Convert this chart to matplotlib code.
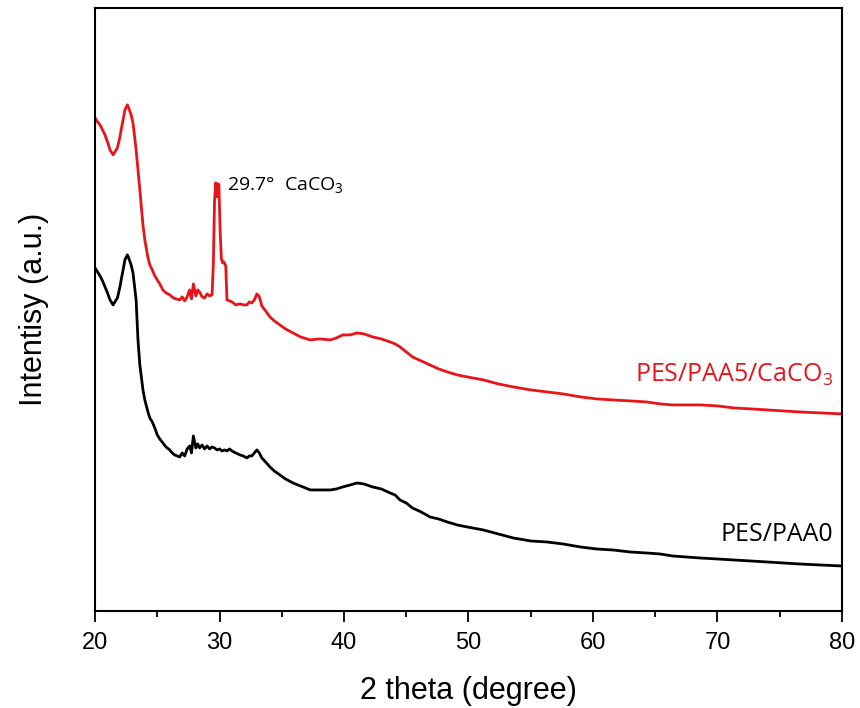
import matplotlib
matplotlib.use("Agg")
import matplotlib.pyplot as plt
from matplotlib.ticker import MultipleLocator

plt.rcParams['mathtext.fontset'] = 'custom'
plt.rcParams['mathtext.rm'] = 'Open Sans'
plt.rcParams['mathtext.it'] = 'Open Sans'

# 2theta (degree) and intensity (a.u.)
theta_red = [20.0, 20.2, 20.4, 20.6, 20.8, 21.0, 21.2, 21.45, 21.6, 21.8, 22.0, 22.1, 22.3, 22.4, 22.6,
             22.7, 22.9, 23.05, 23.3, 23.45, 23.6, 23.85, 24.0, 24.25, 24.4, 24.6, 24.8, 25.0, 25.2,
             25.45, 25.7, 26.0, 26.3, 26.5, 26.8, 27.0, 27.2, 27.4, 27.6, 27.75, 27.9, 28.1, 28.25,
             28.4, 28.6, 28.8, 29.0, 29.2, 29.4, 29.5, 29.6, 29.7, 29.8, 29.9, 29.95, 30.05, 30.15,
             30.25, 30.35, 30.5, 30.6, 30.8, 31.0, 31.3, 31.65, 31.9, 32.2, 32.4, 32.6, 32.8, 33.0,
             33.2, 33.4, 33.7, 34.05, 34.4, 34.85, 35.3, 35.9, 36.5, 37.3, 38.0, 38.9, 39.4, 39.9,
             40.5, 41.05, 41.6, 42.3, 43.0, 43.7, 44.1, 44.5, 45.0, 45.5, 46.2, 46.9, 47.6, 48.3,
             49.1, 49.9, 51.2, 52.4, 53.6, 55.0, 56.3, 57.6, 59.0, 60.3, 61.6, 63.0, 64.3, 65.4,
             66.4, 67.5, 68.6, 70.0, 71.3, 72.7, 74.0, 75.3, 76.6, 78.3, 80.0]
int_red = [493, 489, 486, 481, 476, 469, 461, 456, 459, 463, 474, 481, 494, 501, 506,
           503, 496, 488, 461, 441, 421, 386, 371, 353, 346, 341, 335, 331, 327,
           321, 318, 316, 313, 312, 311, 314, 310, 314, 321, 312, 327, 315, 321,
           319, 314, 313, 317, 315, 316, 345, 410, 428, 414, 427, 426, 380, 352,
           348, 349, 345, 311, 310, 309, 306, 307, 306, 306, 309, 308, 311, 317,
           314, 305, 300, 294, 290, 286, 282, 278, 274, 271, 272, 271, 273, 276,
           276, 278, 277, 274, 272, 269, 267, 264, 259, 254, 250, 246, 242, 239,
           236, 234, 231, 227, 224, 221, 219, 217, 214, 212, 211, 210, 209, 207,
           206, 206, 206, 205, 203, 202, 201, 200, 199, 198, 197]

theta_black = [20.0, 20.2, 20.4, 20.6, 20.8, 21.0, 21.2, 21.45, 21.6, 21.8, 22.0, 22.1, 22.3, 22.4, 22.6,
               22.7, 22.9, 23.05, 23.3, 23.45, 23.6, 23.85, 24.0, 24.25, 24.4, 24.6, 24.8, 25.0, 25.2,
               25.45, 25.7, 26.0, 26.2, 26.4, 26.8, 27.0, 27.2, 27.4, 27.6, 27.75, 27.9, 28.1, 28.25,
               28.4, 28.6, 28.8, 29.0, 29.2, 29.4, 29.6, 29.8, 30.0, 30.2, 30.4, 30.6, 30.8, 31.0,
               31.3, 31.65, 31.9, 32.2, 32.4, 32.6, 32.8, 33.0, 33.2, 33.4, 33.7, 34.05, 34.4, 34.85,
               35.3, 35.9, 36.5, 37.3, 38.0, 38.9, 39.4, 39.9, 40.5, 41.05, 41.6, 42.3, 43.0, 43.7,
               44.1, 44.5, 45.0, 45.5, 46.2, 46.9, 47.6, 48.3, 49.1, 49.9, 51.2, 52.4, 53.6, 55.0,
               56.3, 57.6, 59.0, 60.3, 61.6, 63.0, 64.3, 65.4, 66.4, 67.5, 68.6, 70.0, 71.3, 72.7,
               74.0, 75.3, 76.6, 78.3, 80.0]
int_black = [343, 339, 335, 330, 324, 318, 311, 306, 309, 313, 324, 331, 344, 351, 356,
             353, 346, 338, 311, 271, 246, 221, 211, 199, 193, 189, 183, 176, 172,
             168, 164, 161, 158, 156, 154, 158, 155, 162, 165, 158, 175, 163, 167,
             163, 166, 162, 165, 162, 164, 163, 161, 162, 160, 161, 160, 162, 160,
             158, 156, 155, 153, 155, 155, 158, 161, 158, 153, 149, 144, 140, 136,
             132, 128, 125, 121, 121, 121, 122, 124, 126, 128, 127, 124, 122, 118,
             116, 111, 108, 103, 99, 94, 92, 89, 86, 84, 81, 77, 73, 70,
             69, 67, 64, 62, 61, 59, 58, 57, 55, 54, 53, 52, 51, 50,
             49, 48, 47, 46, 45]

fig = plt.figure(figsize=(8.6, 7.08), dpi=100)
ax = fig.add_axes([0.1105, 0.137, 0.8685, 0.852])

ax.plot(theta_red, int_red, color='#e8141a', lw=2.0)
ax.plot(theta_black, int_black, color='black', lw=2.0)

ax.set_xlim(20, 80)
ax.set_ylim(0, 603)
ax.xaxis.set_major_locator(MultipleLocator(10))
ax.xaxis.set_minor_locator(MultipleLocator(5))
ax.set_yticks([])
ax.tick_params(axis='x', which='major', direction='out', length=8, width=1.3,
               labelsize=17, pad=7)
ax.tick_params(axis='x', which='minor', direction='out', length=4, width=1.3)
for lab in ax.get_xticklabels():
    lab.set_fontfamily('Liberation Sans')
for s in ax.spines.values():
    s.set_linewidth(1.5)

ax.set_xlabel('2 theta (degree)', fontsize=22, fontfamily='Liberation Sans', labelpad=16)
ax.set_ylabel('Intentisy (a.u.)', fontsize=22, fontfamily='Liberation Sans', labelpad=33)

ax.text(79.3, 236, 'PES/PAA5/CaCO$_3$', color='#e8141a', fontsize=18,
        fontfamily='Open Sans', ha='right', va='center')
ax.text(79.3, 76, 'PES/PAA0', color='black', fontsize=18,
        fontfamily='Open Sans', ha='right', va='center')
ax.text(30.6, 426, '29.7°  CaCO$_3$', color='black', fontsize=14,
        fontfamily='Open Sans', ha='left', va='center')

fig.savefig('out.png', dpi=100)
